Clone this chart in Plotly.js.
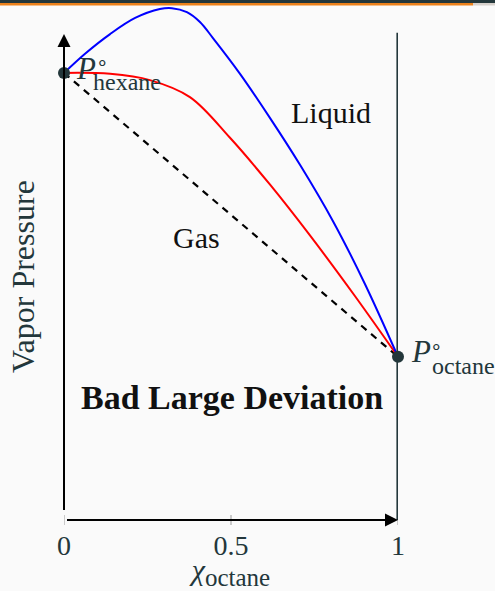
<!DOCTYPE html>
<html>
<head>
<meta charset="utf-8">
<script src="https://cdn.plot.ly/plotly-3.0.1.min.js"></script>
<style>
html,body{margin:0;padding:0;background:#fafafa;}
#chart{width:495px;height:591px;}
</style>
</head>
<body>
<div id="chart"></div>
<script>
// ---- data (mole fraction of octane vs. vapor pressure, arbitrary units) ----
var xTicks = [0, 0.5, 1];
var xTickLabels = ['0', '0.5', '1'];

var liquidX = [0, 0.063, 0.138, 0.213, 0.287, 0.323, 0.368, 0.407, 0.446, 0.527, 0.617, 0.707, 0.805, 0.901, 1.0];
var liquidY = [1.000, 1.043, 1.087, 1.123, 1.143, 1.145, 1.136, 1.114, 1.078, 0.998, 0.899, 0.794, 0.669, 0.528, 0.365];

var gasX = [0, 0.138, 0.257, 0.377, 0.497, 0.617, 0.737, 0.871, 1.0];
var gasY = [1.000, 0.998, 0.984, 0.946, 0.855, 0.750, 0.636, 0.501, 0.365];

var raoultX = [0, 1];
var raoultY = [1.000, 0.365];

var pureX = [0, 1];
var pureY = [1.000, 0.365];

var yAxisTop = 1.087;
var rightLineTop = 1.09;

// ---- layout helpers ----
var W = 495, H = 591;
var mL = 64, mR = 97, mT = 5, mB = 71;
var yMax = 1.152;
var plotW = W - mL - mR, plotH = H - mT - mB;
function pxX(px){ return (px - mL) / plotW; }
function pxY(py){ return (H - mB - py) / plotH; }

var slate = '#23373b';
var serif = 'Liberation Serif, Times New Roman, serif';

var traces = [
  {x: raoultX, y: raoultY, mode: 'lines', line: {color: '#000', width: 2.2, dash: '7px,6px'}, hoverinfo: 'skip'},
  {x: gasX, y: gasY, mode: 'lines', line: {color: '#ff0000', width: 2, shape: 'spline', smoothing: 1}},
  {x: liquidX, y: liquidY, mode: 'lines', line: {color: '#0000ff', width: 2, shape: 'spline', smoothing: 1}},
  {x: pureX, y: pureY, mode: 'markers', marker: {color: slate, size: 12}, cliponaxis: false}
];

var ann = [];
// axes arrows
ann.push({x: 0, y: yAxisTop, ax: 0, ay: 0, xref: 'x', yref: 'y', axref: 'x', ayref: 'y',
  showarrow: true, arrowhead: 2, arrowsize: 1.3, arrowwidth: 2, arrowcolor: '#000', text: ' ', standoff: 0});
ann.push({x: 1, y: 0, ax: 0, ay: 0, xref: 'x', yref: 'y', axref: 'x', ayref: 'y',
  showarrow: true, arrowhead: 2, arrowsize: 1.3, arrowwidth: 2, arrowcolor: '#000', text: ' ', standoff: 0});
// y axis title
ann.push({x: pxX(23), y: pxY(277), xref: 'paper', yref: 'paper', text: 'Vapor Pressure', showarrow: false,
  textangle: -90, xanchor: 'center', yanchor: 'middle', font: {family: serif, size: 32, color: slate}});
// region labels
ann.push({x: 0.799, y: 0.911, xref: 'x', yref: 'y', text: 'Liquid', showarrow: false,
  font: {family: serif, size: 30, color: '#111'}});
ann.push({x: 0.398, y: 0.631, xref: 'x', yref: 'y', text: 'Gas', showarrow: false,
  font: {family: serif, size: 30, color: '#111'}});
ann.push({x: 0.503, y: 0.275, xref: 'x', yref: 'y', text: '<b>Bad Large Deviation</b>', showarrow: false,
  font: {family: serif, size: 34, color: '#111'}});
// P hexane
ann.push({x: pureX[0], y: pureY[0], xref: 'x', yref: 'y', text: '<i>P</i>', showarrow: false,
  xanchor: 'left', yanchor: 'middle', xshift: 10, yshift: 4, font: {family: serif, size: 31, color: slate}});
ann.push({x: pureX[0], y: pureY[0], xref: 'x', yref: 'y', text: '∘', showarrow: false,
  xanchor: 'center', yanchor: 'middle', xshift: 38, yshift: 10, font: {family: serif, size: 20, color: slate}});
ann.push({x: pureX[0], y: pureY[0], xref: 'x', yref: 'y', text: 'hexane', showarrow: false,
  xanchor: 'left', yanchor: 'middle', xshift: 27, yshift: -9, font: {family: serif, size: 24, color: slate}});
// P octane
ann.push({x: pureX[1], y: pureY[1], xref: 'x', yref: 'y', text: '<i>P</i>', showarrow: false,
  xanchor: 'left', yanchor: 'middle', xshift: 11, yshift: 5, font: {family: serif, size: 31, color: slate}});
ann.push({x: pureX[1], y: pureY[1], xref: 'x', yref: 'y', text: '∘', showarrow: false,
  xanchor: 'center', yanchor: 'middle', xshift: 38, yshift: 10, font: {family: serif, size: 20, color: slate}});
ann.push({x: pureX[1], y: pureY[1], xref: 'x', yref: 'y', text: 'octane', showarrow: false,
  xanchor: 'left', yanchor: 'middle', xshift: 32, yshift: -9, font: {family: serif, size: 24, color: slate}});

var shapes = [
  // right vertical boundary
  {type: 'line', xref: 'x', yref: 'y', x0: 1, x1: 1, y0: 0, y1: rightLineTop, line: {color: slate, width: 3.2}},
  // frame decorations at top
  {type: 'rect', xref: 'paper', yref: 'paper', x0: pxX(0), x1: pxX(W), y0: pxY(3), y1: pxY(0), line: {width: 0}, fillcolor: slate, layer: 'above'},
  {type: 'rect', xref: 'paper', yref: 'paper', x0: pxX(0), x1: pxX(473), y0: pxY(5.5), y1: pxY(3), line: {width: 0}, fillcolor: '#eb811b', layer: 'above'},
  {type: 'rect', xref: 'paper', yref: 'paper', x0: pxX(473), x1: pxX(W), y0: pxY(5.5), y1: pxY(3), line: {width: 0}, fillcolor: '#d6d1cc', layer: 'above'}
];
// tick marks crossing the x axis
xTicks.forEach(function(t){
  shapes.push({type: 'line', xref: 'x', yref: 'paper', x0: t, x1: t, y0: pxY(525), y1: pxY(515),
    line: {color: '#9a9a9a', width: 1}, layer: 'below'});
});

var layout = {
  width: W, height: H,
  margin: {l: mL, r: mR, t: mT, b: mB, pad: 0},
  paper_bgcolor: '#fafafa', plot_bgcolor: '#fafafa',
  showlegend: false,
  xaxis: {
    range: [0, 1], showgrid: false, zeroline: false, showline: false,
    tickvals: xTicks, ticktext: xTickLabels, ticks: '', ticklabelstandoff: 6,
    tickfont: {family: serif, size: 28, color: slate},
    title: {text: '<i>χ</i><sub><span style="font-size:25px">octane</span></sub>', font: {family: serif, size: 30, color: slate}, standoff: 0},
    fixedrange: true
  },
  yaxis: {
    range: [0, yMax], showgrid: false, zeroline: false, showline: false, showticklabels: false, ticks: '',
    fixedrange: true
  },
  annotations: ann,
  shapes: shapes
};

Plotly.newPlot('chart', traces, layout, {staticPlot: true, displayModeBar: false});
</script>
</body>
</html>
